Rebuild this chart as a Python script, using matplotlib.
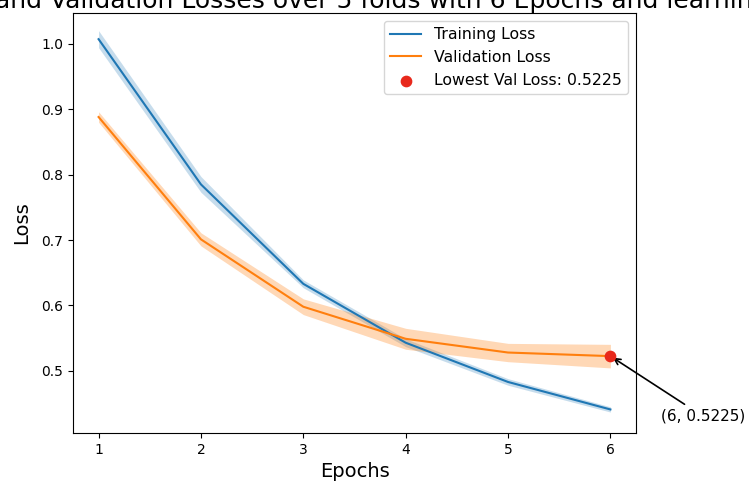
import numpy as np
import matplotlib.pyplot as plt

# Mittelwerte und Streubreite der Verluste über die Folds
epochs = [1, 2, 3, 4, 5, 6]
train_loss = [1.007, 0.785, 0.633, 0.543, 0.483, 0.441]
train_spread = [0.013, 0.012, 0.006, 0.006, 0.005, 0.004]
val_loss = [0.888, 0.701, 0.598, 0.549, 0.528, 0.5225]
val_spread = [0.008, 0.010, 0.012, 0.016, 0.014, 0.018]

TITLE = "Training and Validation Losses over 5 folds with 6 Epochs and learning rate 0.0001"

fig = plt.figure(figsize=(7.49, 4.87), dpi=100)
ax = fig.add_axes([73 / 749, 54 / 487, 563 / 749, 420 / 487])

x = np.array(epochs)
tr = np.array(train_loss)
va = np.array(val_loss)

ax.plot(x, tr, color="tab:blue", lw=1.5, label="Training Loss")
ax.fill_between(x, tr - np.array(train_spread), tr + np.array(train_spread),
                color="tab:blue", alpha=0.25, lw=0)
ax.plot(x, va, color="tab:orange", lw=1.5, label="Validation Loss")
ax.fill_between(x, va - np.array(val_spread), va + np.array(val_spread),
                color="tab:orange", alpha=0.3, lw=0)

best = int(np.argmin(va))
best_epoch = epochs[best]
best_val = val_loss[best]
ax.scatter(best_epoch, best_val, color="#e8291c", s=55, zorder=5,
           label=f"Lowest Val Loss: {best_val:.4f}")
ax.annotate(f"({best_epoch}, {best_val:.4f})", xy=(best_epoch, best_val),
            xytext=(best_epoch + 0.49, 0.424), fontsize=11,
            arrowprops=dict(arrowstyle="->", color="black", lw=1.2),
            annotation_clip=False)

ax.set_xlim(0.75, 6.25)
ax.set_ylim(0.405, 1.047)
ax.set_xticks(epochs)
ax.set_xlabel("Epochs", fontsize=14)
ax.set_ylabel("Loss", fontsize=14, labelpad=7)
# Titel ist breiter als die Achse und wird links versetzt angesetzt
ax.set_title(TITLE, fontsize=18, loc="left", x=-0.3286, pad=3)
ax.legend(loc="upper right", fontsize=11.3)

fig.savefig("out.png", dpi=100)
